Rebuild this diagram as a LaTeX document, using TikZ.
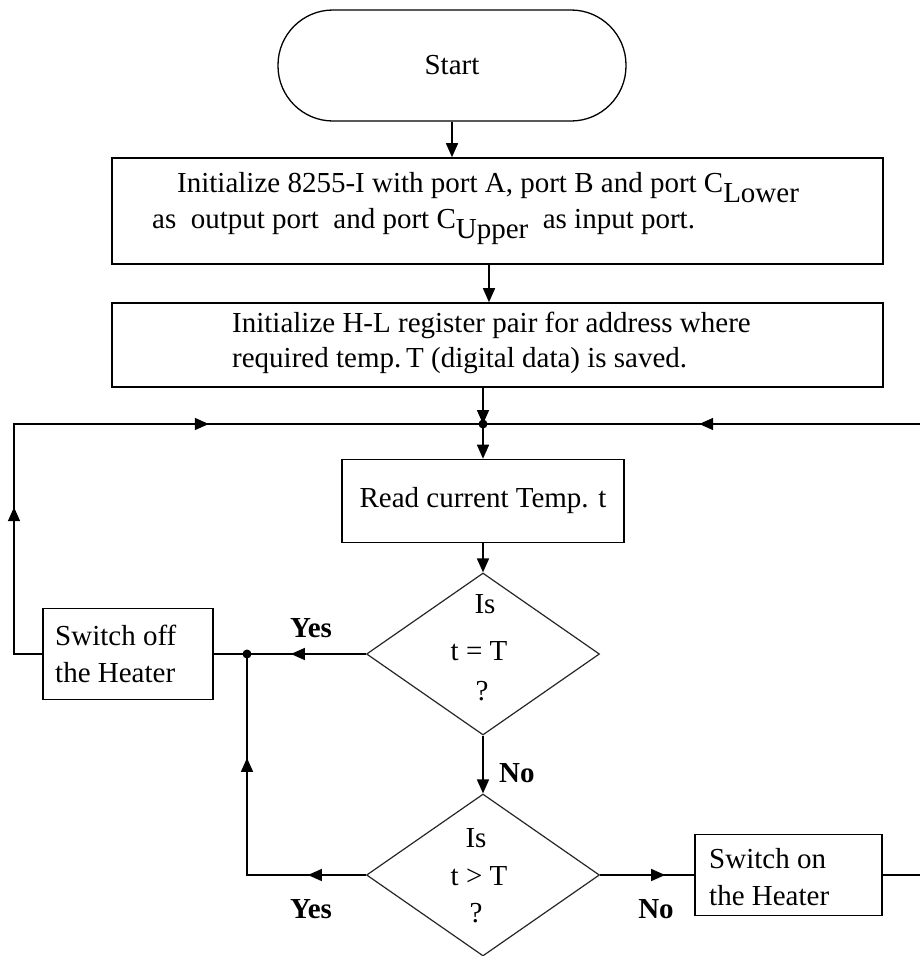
\documentclass[tikz,border=0pt]{standalone}
\usepackage{fontspec}
\setmainfont{Liberation Serif}
\usetikzlibrary{arrows.meta,shapes.geometric,decorations.markings}
\newcommand{\lowsub}[1]{\raisebox{-10pt}{#1}}
\begin{document}
\begin{tikzpicture}[x=1pt,y=-1pt,
  font=\fontsize{29}{34}\selectfont,
  flow/.style={line width=1.6pt},
  arr/.style={flow,-{Triangle[length=14pt,width=12pt]}},
  box/.style={draw,line width=1.6pt,rectangle,inner sep=0pt},
  dec/.style={draw=black!85,line width=1.2pt,diamond,inner sep=0pt,minimum width=233pt,minimum height=162pt},
  txt/.style={inner sep=0pt},
  lbl/.style={inner sep=0pt,font=\fontsize{29}{34}\selectfont\bfseries},
  midarr/.style={postaction={decorate,decoration={markings,mark=at position #1 with {\arrow{Triangle[length=14pt,width=12pt]}}}}},
  midarrtwo/.style 2 args={postaction={decorate,decoration={markings,mark=at position #1 with {\arrow{Triangle[length=14pt,width=12pt]}},mark=at position #2 with {\arrow{Triangle[length=14pt,width=12pt]}}}}},
]
\useasboundingbox (0,0) rectangle (919,956);

% shapes
\node[box,rounded corners=55pt,line width=1.3pt,minimum width=348pt,minimum height=111pt] (start) at (452,65.5) {Start};
\node[box,minimum width=771pt,minimum height=106pt] (box1) at (497.5,211) {};
\node[box,minimum width=771pt,minimum height=84pt] (box2) at (497.5,345) {};
\node[box,minimum width=282pt,minimum height=83pt] (read) at (483,501) {Read current Temp. t};
\node[dec] (d1) at (483,654) {};
\node[dec] (d2) at (483,875) {};
\node[box,minimum width=170pt,minimum height=91pt] (swoff) at (128,654) {};
\node[box,minimum width=187pt,minimum height=81pt] (swon) at (788.5,875) {};

% texts
\node[txt,anchor=base west] (b1a) at (177,192) {Initialize 8255-I with port A, port B and port C\lowsub{Lower}};
\node[txt,anchor=base west] (b1b) at (152,228) {as~ output port~ and port C\lowsub{Upper}~ as input port.};
\node[txt,anchor=base west] (b2a) at (232,332) {Initialize H-L register pair for address where};
\node[txt,anchor=base west] (b2b) at (232,367) {required temp.\,T (digital data) is saved.};
\node[txt,anchor=base] (d1a) at (485,613) {Is};
\node[txt,anchor=base] (d1b) at (479,660) {t = T};
\node[txt,anchor=base] (d1c) at (482,700) {?};
\node[txt,anchor=base] (d2a) at (476,847) {Is};
\node[txt,anchor=base] (d2b) at (479,885) {t > T};
\node[txt,anchor=base] (d2c) at (476,922) {?};
\node[txt,anchor=base west] (offa) at (55,645) {Switch off};
\node[txt,anchor=base west] (offb) at (55,682) {the Heater};
\node[txt,anchor=base west] (ona) at (709,868) {Switch on};
\node[txt,anchor=base west] (onb) at (709,905) {the Heater};

% labels
\node[lbl,anchor=base] (yes1) at (311,637) {Yes};
\node[lbl,anchor=base west] (no1) at (499,782) {No};
\node[lbl,anchor=base] (yes2) at (311,918) {Yes};
\node[lbl,anchor=base] (no2) at (656,918) {No};

% junctions
\coordinate (J) at (483,424);
\coordinate (D) at (247,654);
\coordinate (LT) at (14,424);
\coordinate (RT) at (922,424);

% connectors
\draw[arr] (start.south) -- (start.south |- box1.north);
\draw[arr] ([xshift=-8.5pt]box1.south) -- ([xshift=-8.5pt]box1.south |- box2.north);
\draw[arr] (box2.south -| J) -- (J);
\draw[arr] (J) -- (read.north);
\draw[arr] (read.south) -- (d1.north);
\draw[arr] (d1.south) -- (d2.north);
\draw[flow,midarr=75pt] (d1.west) -- (swoff.east);
\draw[flow,midarrtwo={58pt}{236pt}] (d2.west) -| (D);
\draw[flow,midarr=65pt] (d2.east) -- (swon.west);
\draw[flow,midarrtwo={175pt}{453pt}] (swoff.west) -| (LT) -- (J);
\draw[flow,midarr=713pt] (swon.east) -| (RT) -- (J);
\fill (J) circle[radius=4.5pt];
\fill (D) circle[radius=4.5pt];
\end{tikzpicture}
\end{document}
